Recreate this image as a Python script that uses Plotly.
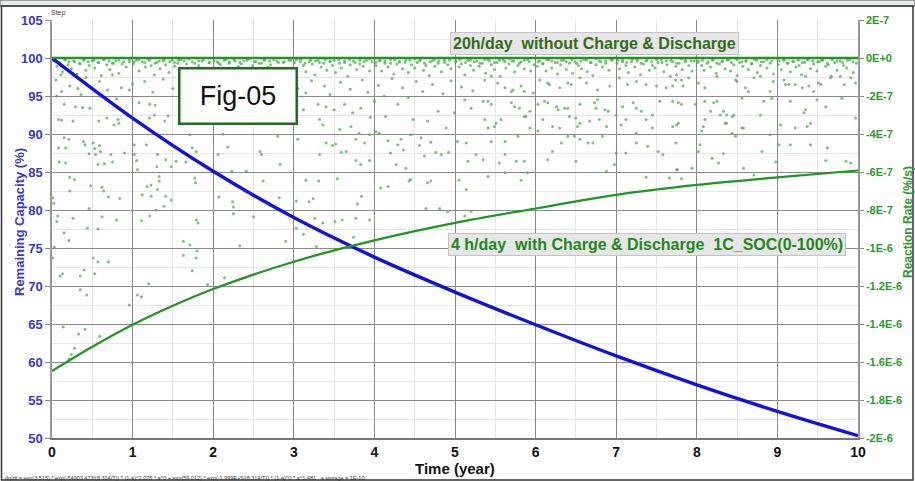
import numpy as np
import plotly.graph_objects as go

# ---------------- data ----------------
years = [0, 1, 2, 3, 4, 5, 6, 7, 8, 9, 10]
capacity_pct = [100, 92.1, 85.1, 79.0, 73.8, 69.2, 64.9, 60.8, 57.0, 53.5, 50.3]

rate_years = [0, 0.5, 1, 1.5, 2, 3, 4, 5, 6, 7, 8, 9, 10]
rate_4h = [-1.648e-6, -1.52e-6, -1.404e-6, -1.304e-6, -1.216e-6, -1.072e-6, -9.6e-7,
           -8.68e-7, -7.92e-7, -7.2e-7, -6.68e-7, -6.28e-7, -5.92e-7]

flat_x = [0, 10]
flat_rate_20h = [0, 0]

# scattered step reaction-rate dots (read as level on the left scale)
fringe_x = [
    0.03,0.09,0.16,0.21,0.27,0.34,0.40,0.45,0.52,0.58,0.65,0.71,0.76,0.83,0.89,0.96,
    1.02,1.08,1.15,1.21,1.28,1.33,1.39,1.46,1.52,1.57,1.64,1.70,1.77,1.82,1.88,1.95,
    2.01,2.07,2.14,2.20,2.26,2.33,2.38,2.44,2.51,2.57,2.63,2.70,2.75,2.81,2.88,2.94,
    3.03,3.08,3.14,3.21,3.27,3.32,3.39,3.45,3.50,3.57,3.63,3.69,3.76,3.82,3.87,3.94,
    4.02,4.07,4.13,4.20,4.25,4.31,4.38,4.44,4.50,4.56,4.62,4.69,4.74,4.80,4.87,4.93,
    5.01,5.06,5.13,5.19,5.24,5.31,5.37,5.43,5.49,5.55,5.62,5.68,5.73,5.80,5.86,5.92,
    6.03,6.09,6.14,6.20,6.27,6.32,6.38,6.45,6.51,6.56,6.63,6.69,6.75,6.81,6.87,6.94,
    7.02,7.08,7.13,7.20,7.26,7.31,7.38,7.44,7.50,7.57,7.62,7.68,7.75,7.81,7.86,7.93,
    8.01,8.07,8.14,8.19,8.25,8.32,8.38,8.43,8.50,8.56,8.61,8.68,8.74,8.80,8.87,8.93,
    9.02,9.08,9.13,9.20,9.26,9.31,9.37,9.44,9.50,9.55,9.62,9.68,9.74,9.81,9.87,9.94,
]
fringe_level = [
    99.7,99.4,99.8,99.5,99.6,99.3,99.8,99.5,99.7,99.4,99.9,99.6,99.3,99.7,99.5,99.8,
    99.5,99.8,99.4,99.7,99.3,99.6,99.8,99.5,99.4,99.7,99.6,99.9,99.3,99.6,99.8,99.4,
    99.6,99.3,99.7,99.5,99.8,99.4,99.6,99.9,99.5,99.3,99.7,99.6,99.8,99.4,99.5,99.7,
    99.8,99.5,99.3,99.7,99.6,99.4,99.8,99.5,99.7,99.3,99.6,99.8,99.4,99.7,99.5,99.9,
    99.4,99.7,99.6,99.3,99.8,99.5,99.4,99.7,99.9,99.6,99.3,99.5,99.8,99.6,99.4,99.7,
    99.6,99.8,99.4,99.7,99.5,99.3,99.8,99.6,99.4,99.7,99.5,99.9,99.6,99.3,99.7,99.5,
    99.5,99.3,99.8,99.6,99.4,99.7,99.5,99.8,99.3,99.6,99.7,99.4,99.9,99.5,99.6,99.8,
    99.7,99.5,99.4,99.8,99.6,99.3,99.7,99.5,99.8,99.4,99.6,99.7,99.3,99.9,99.5,99.6,
    99.4,99.7,99.5,99.8,99.3,99.6,99.7,99.4,99.8,99.5,99.6,99.3,99.7,99.5,99.8,99.6,
    99.6,99.8,99.3,99.5,99.7,99.4,99.8,99.6,99.5,99.7,99.3,99.8,99.6,99.4,99.7,99.5,
]
band_x = [
    0.02,0.06,0.09,0.13,0.17,0.20,0.24,0.28,0.31,0.35,0.39,0.42,0.46,0.50,0.53,0.57,0.61,0.64,0.68,0.72,0.75,0.79,0.83,0.87,0.92,0.96,
    1.01,1.05,1.08,1.12,1.16,1.19,1.23,1.27,1.30,1.34,1.38,1.41,1.45,1.49,1.52,1.56,1.60,1.63,1.67,1.71,1.74,1.78,1.82,1.86,1.90,1.95,
    2.02,2.05,2.09,2.13,2.16,2.20,2.24,2.27,2.31,2.35,2.38,2.42,2.46,2.49,2.53,2.57,2.60,2.64,2.68,2.71,2.75,2.79,2.83,2.87,2.91,2.96,
    3.01,3.04,3.08,3.12,3.15,3.19,3.23,3.26,3.30,3.34,3.37,3.41,3.45,3.48,3.52,3.56,3.59,3.63,3.67,3.70,3.74,3.78,3.82,3.86,3.90,3.94,3.97,
    4.02,4.06,4.09,4.13,4.17,4.20,4.24,4.28,4.31,4.35,4.39,4.42,4.46,4.50,4.53,4.57,4.61,4.64,4.68,4.72,4.75,4.79,4.83,4.87,4.91,4.95,
    5.01,5.05,5.08,5.12,5.16,5.19,5.23,5.27,5.30,5.34,5.38,5.41,5.45,5.49,5.52,5.56,5.60,5.63,5.67,5.71,5.74,5.78,5.82,5.86,5.90,5.94,5.98,
    6.02,6.05,6.09,6.13,6.16,6.20,6.24,6.27,6.31,6.35,6.38,6.42,6.46,6.49,6.53,6.57,6.60,6.64,6.68,6.71,6.75,6.79,6.83,6.87,6.91,6.95,
    7.01,7.04,7.08,7.12,7.15,7.19,7.23,7.26,7.30,7.34,7.37,7.41,7.45,7.48,7.52,7.56,7.59,7.63,7.67,7.70,7.74,7.78,7.82,7.86,7.90,7.94,7.97,
    8.02,8.06,8.09,8.13,8.17,8.20,8.24,8.28,8.31,8.35,8.39,8.42,8.46,8.50,8.53,8.57,8.61,8.64,8.68,8.72,8.75,8.79,8.83,8.87,8.91,8.95,
    9.01,9.05,9.08,9.12,9.16,9.19,9.23,9.27,9.30,9.34,9.38,9.41,9.45,9.49,9.52,9.56,9.60,9.63,9.67,9.71,9.74,9.78,9.82,9.86,9.90,9.94,9.98,
]
band_level = [
    99.6,98.9,99.3,98.2,99.8,99.1,98.6,99.5,97.9,99.2,99.7,98.4,99.0,99.6,98.7,99.4,97.7,99.8,99.1,98.5,99.3,99.6,98.0,99.2,98.8,99.5,
    99.2,99.7,98.3,99.5,98.8,99.9,99.0,97.8,99.4,98.6,99.6,99.1,98.1,99.7,98.9,99.3,99.8,98.4,99.2,97.6,99.5,98.7,99.0,99.6,98.2,99.4,
    98.7,99.5,99.1,98.0,99.8,99.3,98.5,99.6,98.9,99.2,97.7,99.7,98.4,99.0,99.5,98.2,99.3,99.8,98.8,99.1,98.3,99.6,97.9,99.4,98.6,99.7,
    99.4,98.6,99.8,99.0,98.2,99.5,99.2,97.8,99.7,98.8,99.3,98.4,99.6,99.0,98.1,99.8,98.7,99.4,97.6,99.1,99.6,98.5,99.2,98.9,99.7,98.3,99.5,
    99.0,99.6,98.3,99.3,98.8,99.8,97.9,99.2,99.5,98.6,99.7,98.1,99.1,98.7,99.4,99.8,98.4,99.0,97.7,99.6,98.9,99.3,98.2,99.7,99.1,98.6,
    99.5,98.8,99.2,97.8,99.7,99.0,98.4,99.6,98.9,99.3,98.0,99.8,99.1,98.5,99.4,97.6,99.7,98.7,99.2,99.6,98.2,99.0,99.5,98.6,99.8,98.3,99.1,
    98.9,99.6,99.2,98.3,99.8,98.7,99.4,97.9,99.1,99.7,98.5,99.3,98.0,99.5,99.0,98.6,99.8,98.2,99.4,97.7,99.1,99.6,98.8,99.3,98.4,99.7,
    99.3,98.6,99.7,99.0,98.1,99.5,98.8,99.8,97.8,99.2,99.6,98.4,99.0,98.7,99.4,99.8,98.2,99.1,97.6,99.5,98.9,99.3,98.5,99.7,99.0,98.3,99.6,
    99.6,99.0,98.4,99.3,98.8,99.7,98.0,99.2,99.5,98.6,99.8,98.3,99.1,97.7,99.4,98.9,99.6,98.5,99.2,99.8,98.1,99.0,99.5,98.7,99.3,97.9,
    99.1,98.5,99.7,99.3,98.2,99.6,98.8,99.0,97.8,99.4,99.8,98.6,99.2,98.3,99.5,99.7,98.9,99.1,97.6,99.4,98.4,99.6,99.0,98.7,99.8,98.1,99.3,
]

dots_x = [
    0.06,0.15,0.29,0.38,0.47,0.08,0.12,0.26,0.58,0.68,0.82,0.83,0.77,0.15,0.21,0.08,0.17,0.39,0.51,0.41,
    0.59,0.46,0.54,0.53,0.60,0.73,0.90,0.75,0.09,0.17,0.57,0.65,1.02,1.05,0.22,0.28,0.22,0.48,0.62,0.64,
    0.70,0.84,0.01,0.02,0.46,0.07,0.26,0.62,0.80,0.06,0.15,0.21,0.44,0.57,0.03,0.51,0.57,0.70,0.01,0.13,
    0.10,0.40,0.35,0.53,0.35,0.43,0.14,0.33,0.41,0.59,0.28,0.24,0.21,1.02,1.17,1.06,1.18,1.23,1.33,1.12,
    1.23,1.41,1.48,1.31,1.11,1.21,1.29,1.39,1.21,1.27,1.40,1.44,1.21,1.28,1.08,1.31,1.41,1.48,1.30,1.54,
    1.66,1.74,1.79,1.71,1.33,1.63,1.71,1.80,1.63,1.74,1.79,1.93,2.14,1.20,0.96,1.06,1.11,1.79,1.81,1.77,
    1.78,2.07,2.24,2.25,2.25,2.50,2.33,2.06,2.18,2.23,2.41,2.12,2.58,2.60,2.62,
    0.05,0.11,0.22,0.32,0.42,0.59,0.75,0.86,0.96,0.69,0.12,0.36,0.80,1.00,1.15,1.25,1.38,1.50,1.62,1.72,
    1.85,1.95,2.05,2.15,2.30,2.45,2.55,
    3.12,3.30,3.40,3.50,3.63,3.73,3.83,3.95,4.00,4.14,4.29,4.48,4.66,4.79,4.89,4.99,5.12,5.20,3.05,3.32,
    3.36,3.40,3.48,3.52,3.57,3.65,3.71,3.77,3.81,3.88,3.94,4.02,4.06,4.17,4.20,4.29,4.33,4.36,4.45,4.56,
    4.58,4.62,4.70,4.76,4.83,4.92,5.03,5.14,5.16,5.26,2.80,2.83,3.32,3.59,3.77,3.83,3.94,4.27,4.39,3.15,
    3.31,3.54,3.84,3.79,4.08,4.17,4.43,4.45,4.66,4.70,5.05,5.14,3.03,3.19,3.24,3.26,3.36,3.51,3.60,3.77,
    3.94,4.64,4.81,4.91,5.12,5.20,3.03,3.12,2.90,3.28,3.74,2.82,
    2.75,2.90,3.05,3.15,3.22,3.38,3.45,3.58,3.70,3.85,3.92,4.05,4.12,4.22,4.35,4.42,4.52,4.60,4.72,4.85,
    4.95,5.08,5.22,
    5.37,5.45,5.53,5.62,5.70,5.72,5.82,5.86,5.97,6.05,6.15,6.17,6.30,6.40,6.44,6.55,6.63,6.77,6.92,7.04,
    7.14,7.25,7.37,7.50,7.62,7.70,7.74,5.35,5.41,5.45,5.70,5.74,5.80,5.88,5.93,6.03,6.11,6.15,6.26,6.28,
    6.36,6.40,6.55,6.73,6.75,6.77,6.86,6.90,7.08,7.21,7.25,7.31,7.45,7.54,7.70,5.37,5.41,5.49,5.51,5.57,
    5.86,5.93,6.03,6.09,6.21,6.30,6.42,6.50,6.52,6.55,6.67,6.79,6.88,7.00,7.06,7.12,7.25,7.37,7.45,7.70,
    5.45,5.62,5.78,6.21,6.32,6.40,6.48,6.55,6.65,6.71,6.83,7.00,7.12,7.25,7.39,7.52,7.58,7.74,5.35,5.55,
    5.62,5.76,5.86,6.15,6.50,6.98,6.88,7.76,5.62,5.90,5.41,5.82,7.37,7.66,
    7.75,7.81,7.83,7.90,8.02,8.10,8.25,8.48,8.50,8.60,8.64,8.71,8.79,8.91,8.95,9.08,9.10,9.14,9.22,9.31,
    9.39,9.45,9.51,9.54,9.66,9.78,9.83,9.91,9.97,9.35,7.77,7.81,7.98,8.10,8.21,8.25,8.17,8.10,8.29,8.33,
    8.37,8.44,8.46,8.56,8.83,8.93,9.16,9.35,9.33,9.41,9.37,9.49,9.60,9.80,9.97,8.35,8.37,8.56,8.58,8.79,
    9.04,9.22,7.75,7.77,8.08,8.06,8.44,8.48,8.91,8.04,9.02,9.16,9.41,9.62,8.02,8.33,8.81,8.19,8.27,8.58,
    8.71,9.60,9.85,9.91,7.75,7.81,7.94,8.98,
]
dots_level = [
    95.0,93.9,93.6,93.5,93.4,91.9,91.8,91.7,91.7,92.1,91.9,91.4,91.2,89.5,89.3,88.2,88.2,89.0,88.8,88.6,
    88.5,87.4,87.3,88.1,87.7,87.3,87.5,86.3,86.3,86.2,86.0,86.1,87.3,86.5,84.3,84.0,82.5,83.2,83.0,82.5,
    81.7,81.5,81.6,80.9,80.2,79.2,78.9,79.1,78.7,78.5,77.0,76.0,77.6,77.5,75.1,73.7,73.2,73.2,73.7,71.6,
    71.3,72.1,71.3,71.6,69.5,68.8,64.6,63.7,64.3,63.4,61.8,61.0,60.4,88.6,88.6,85.3,83.1,83.3,83.8,82.0,
    81.8,81.8,81.3,82.7,78.6,79.2,80.0,80.5,92.1,92.5,91.7,92.4,93.9,93.8,94.1,87.3,86.6,85.7,85.7,86.4,
    86.3,88.2,87.7,89.9,84.4,75.9,75.4,74.6,74.0,72.0,73.7,70.2,71.1,70.3,67.5,68.8,68.6,78.7,78.3,84.2,
    83.6,81.7,81.1,80.4,79.5,79.1,75.3,87.3,88.3,85.1,85.1,90.0,87.7,87.3,83.8,
    97.1,97.8,96.3,96.0,97.4,96.9,97.8,96.1,95.8,95.8,95.6,95.2,94.6,96.6,96.9,95.5,97.2,96.0,95.3,96.8,
    95.9,97.3,96.2,95.1,96.7,95.6,97.0,
    93.2,93.9,93.6,93.2,93.9,92.8,93.4,92.2,94.3,92.3,93.9,91.9,91.7,93.0,90.8,92.8,94.5,93.4,89.3,91.9,
    91.2,88.8,88.5,88.7,90.6,87.7,91.0,89.3,90.1,88.8,89.9,90.3,90.1,89.1,87.5,88.6,89.3,87.9,89.9,88.5,
    89.5,87.1,88.9,87.6,87.3,87.6,89.0,88.8,86.4,87.3,89.7,86.0,87.3,87.6,86.5,86.0,86.5,86.0,85.5,83.9,
    83.8,84.1,81.8,80.8,82.9,83.1,83.8,84.0,83.6,83.8,83.9,82.7,81.2,81.1,81.5,78.9,78.3,78.5,78.7,78.9,
    78.7,80.2,80.2,79.8,79.2,79.8,77.6,76.8,75.9,75.2,76.4,81.6,
    96.5,97.2,96.0,95.4,97.0,96.3,95.2,96.8,95.9,97.1,95.5,96.4,95.0,97.3,96.1,94.8,96.9,95.6,96.5,95.3,
    97.0,96.2,95.7,
    97.1,97.6,96.7,96.1,95.6,95.8,96.3,95.6,95.4,97.1,96.7,96.5,96.1,96.7,96.5,97.4,96.7,95.8,96.3,97.4,
    96.5,96.9,96.5,96.3,96.1,96.3,97.1,94.3,94.3,93.9,94.1,93.6,93.4,92.3,93.0,93.9,94.3,94.1,93.6,93.2,
    93.4,93.4,93.9,94.1,93.4,94.5,93.2,93.0,93.6,94.1,93.4,93.0,92.5,94.3,94.3,91.9,90.8,91.0,91.4,91.9,
    92.3,90.8,90.4,91.9,91.0,90.8,92.3,92.1,91.0,91.4,91.7,91.9,91.0,92.5,91.2,91.9,90.1,91.9,90.8,91.0,
    89.0,89.0,89.7,87.7,88.8,89.7,89.7,89.3,88.8,88.8,89.7,87.5,87.5,88.8,88.4,87.7,87.3,88.8,86.6,86.2,
    87.3,86.4,86.4,86.6,86.4,86.0,85.1,85.3,84.9,84.9,84.4,83.9,84.3,84.2,
    97.8,97.1,96.3,97.4,96.7,96.1,97.6,97.1,96.9,96.1,95.6,97.4,97.6,95.6,96.9,97.1,96.5,96.5,96.5,96.1,
    96.3,95.6,96.7,96.5,97.4,97.6,96.5,97.4,96.7,97.6,94.1,93.9,93.9,94.3,94.1,94.3,93.0,91.9,92.5,93.0,
    92.5,92.3,92.5,94.7,94.3,94.7,94.3,93.2,92.8,91.4,91.0,94.5,93.6,94.7,92.1,91.4,91.4,90.8,90.8,92.5,
    91.2,90.8,91.2,91.4,91.0,90.4,90.1,89.7,89.9,88.6,88.6,88.6,88.6,88.2,87.7,87.4,87.7,86.8,86.2,85.5,
    84.6,86.5,86.4,86.2,85.3,84.1,85.5,86.3,
]

x_ticks = [0, 1, 2, 3, 4, 5, 6, 7, 8, 9, 10]
left_ticks = [50, 55, 60, 65, 70, 75, 80, 85, 90, 95, 100, 105]
right_tickvals = [2e-7, 0, -2e-7, -4e-7, -6e-7, -8e-7, -1e-6, -1.2e-6, -1.4e-6, -1.6e-6, -1.8e-6, -2e-6]
right_ticktext = ["2E-7", "0E+0", "-2E-7", "-4E-7", "-6E-7", "-8E-7", "-1E-6",
                  "-1.2E-6", "-1.4E-6", "-1.6E-6", "-1.8E-6", "-2E-6"]

# ---------------- figure ----------------
FONT = "Liberation Sans, Arial, sans-serif"
W, H = 915, 481
L, R, T, B = 52, 57, 20, 43
PW, PH = W - L - R, H - T - B


def px(xp):
    return (xp - L) / PW


def py(yp):
    return (H - B - yp) / PH


fig = go.Figure()

fig.add_trace(go.Scatter(
    x=fringe_x + band_x + dots_x, y=fringe_level + band_level + dots_level, mode="markers",
    marker=dict(size=3, color="rgba(80,170,80,0.75)", line=dict(width=0)),
    showlegend=False, hoverinfo="skip"))

fig.add_trace(go.Scatter(
    x=flat_x, y=flat_rate_20h, yaxis="y2", mode="lines",
    line=dict(color="#1f961f", width=2.6), showlegend=False))

fig.add_trace(go.Scatter(
    x=rate_years, y=rate_4h, yaxis="y2", mode="lines", line_shape="spline",
    line=dict(color="#1f961f", width=2.2), showlegend=False))

fig.add_trace(go.Scatter(
    x=years, y=capacity_pct, mode="lines", line_shape="spline",
    line=dict(color="#1212dc", width=3.4), showlegend=False))

fig.update_layout(
    width=W, height=H,
    margin=dict(l=L, r=R, t=T, b=B, autoexpand=False),
    paper_bgcolor="white", plot_bgcolor="white",
    font=dict(family=FONT),
    xaxis=dict(
        range=[0, 10], tickvals=x_ticks, ticks="", showline=True, linecolor="#777", linewidth=1.5,
        showgrid=True, gridcolor="#8a8a8a", gridwidth=1.3, zeroline=False,
        minor=dict(dtick=0.5, showgrid=True, gridcolor="#e6e6e6", gridwidth=1),
        tickfont=dict(size=14, color="#111", weight="bold"), automargin=False,
    ),
    yaxis=dict(
        range=[50, 105], tickvals=left_ticks, ticks="outside", ticklen=5, tickcolor="#888",
        showline=True, linecolor="#999", linewidth=1.5,
        showgrid=True, gridcolor="#8a8a8a", gridwidth=1.3, zeroline=False,
        minor=dict(dtick=2.5, showgrid=True, gridcolor="#e6e6e6", gridwidth=1),
        tickfont=dict(size=13, color="#3838c4", weight="bold"), automargin=False,
    ),
    yaxis2=dict(
        range=[-2e-6, 2e-7], overlaying="y", side="right", tickvals=right_tickvals,
        ticktext=right_ticktext, ticks="outside", ticklen=4, tickcolor="#888",
        showline=True, linecolor="#999", linewidth=1.5, showgrid=False, zeroline=False,
        tickfont=dict(size=11, color="#2a9a2a", weight="bold"), automargin=False,
    ),
)

ann = []
ann.append(dict(xref="paper", yref="paper", x=px(455), y=py(468), xanchor="center", yanchor="middle",
                text="Time (year)", showarrow=False, font=dict(size=15, color="#111", weight="bold")))
ann.append(dict(xref="paper", yref="paper", x=px(19), y=py(222), xanchor="center", yanchor="middle",
                text="Remaining Capacity (%)", textangle=-90, showarrow=False,
                font=dict(size=13, color="#3838c4", weight="bold")))
ann.append(dict(xref="paper", yref="paper", x=px(908), y=py(222), xanchor="center", yanchor="middle",
                text="Reaction Rate (%/s)", textangle=-90, showarrow=False,
                font=dict(size=12, color="#2a9a2a", weight="bold")))
ann.append(dict(xref="paper", yref="paper", x=px(49), y=py(13), text="Step", xanchor="left",
                yanchor="middle", showarrow=False, font=dict(size=7, color="#444")))
ann.append(dict(xref="paper", yref="paper", x=px(450), y=py(43), xanchor="left", yanchor="middle",
                text="20h/day\u00a0\u00a0without Charge &amp; Discharge", showarrow=False,
                bgcolor="#e6e6e6", bordercolor="#c4c4c4", borderwidth=1, borderpad=2,
                font=dict(size=16, color="#336a1c", weight="bold")))
ann.append(dict(xref="paper", yref="paper", x=px(448), y=py(244), xanchor="left", yanchor="middle",
                text="4 h/day\u00a0\u00a0with Charge &amp; Discharge\u00a0\u00a01C_SOC(0-100%)",
                showarrow=False, bgcolor="#e6e6e6", bordercolor="#c4c4c4", borderwidth=1, borderpad=2,
                font=dict(size=16, color="#1e881e", weight="bold")))
ann.append(dict(xref="paper", yref="paper", x=px(237.5), y=py(95.5), xanchor="center", yanchor="middle",
                text="Fig-05", showarrow=False, bgcolor="white", bordercolor="#1f6b1f", borderwidth=2.5,
                width=113, height=51, font=dict(size=27, color="#111")))
ann.append(dict(xref="paper", yref="paper", x=px(3), y=py(477.5), xanchor="left", yanchor="middle",
                text="dq/dt = exp(3.515) * exp(-54903.473/(8.314/T)) * (1-a)^2.075 * a^0 + exp(59.012) * "
                     "exp(-1.999E+5/(8.314/T)) * (1-a)^0 * a^1.481 ; a storage = 1E-10",
                showarrow=False, font=dict(size=5.5, color="#333")))
fig.update_layout(annotations=ann)

shapes = [
    dict(type="rect", xref="paper", yref="paper", x0=px(0), x1=px(915), y0=py(6), y1=py(0),
         fillcolor="#e8ece8", line=dict(color="#555", width=1), layer="below"),
    dict(type="rect", xref="paper", yref="paper", x0=px(1.5), x1=px(913), y0=py(480), y1=py(6),
         fillcolor="rgba(0,0,0,0)", line=dict(color="#333", width=1.5)),
]
fig.update_layout(shapes=shapes)

fig.write_html("out.html")
